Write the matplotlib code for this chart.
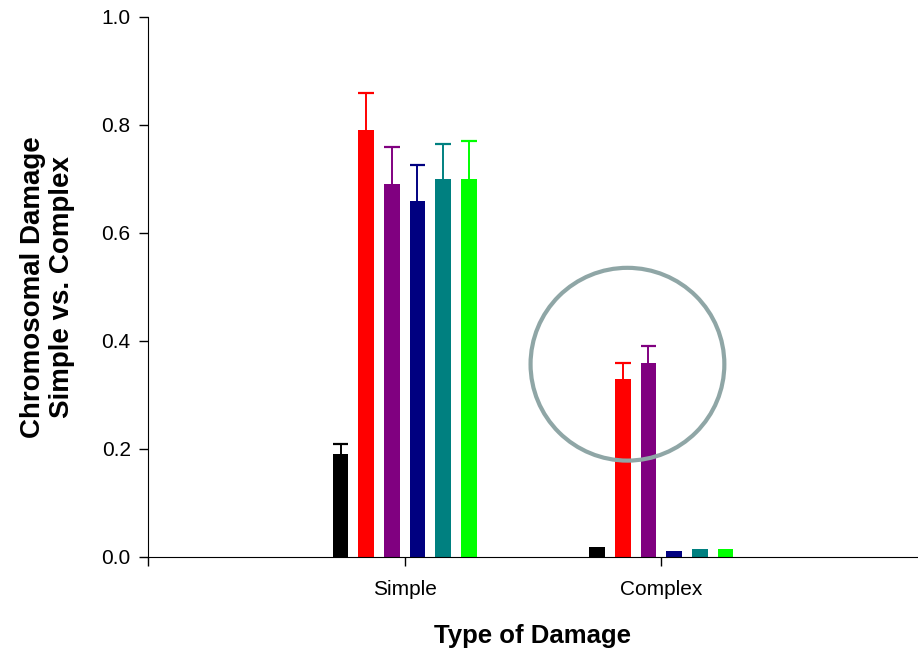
import matplotlib
matplotlib.use("Agg")
import matplotlib.pyplot as plt
from matplotlib.patches import Ellipse
import numpy as np

plt.rcParams['font.family'] = ['Liberation Sans', 'DejaVu Sans']

categories = ["Simple", "Complex"]
series_colors = ["#000000", "#ff0000", "#800080", "#000080", "#008080", "#00ff00"]
simple_vals = [0.19, 0.79, 0.69, 0.66, 0.70, 0.70]
simple_err = [0.02, 0.07, 0.07, 0.065, 0.065, 0.07]
complex_vals = [0.018, 0.33, 0.36, 0.012, 0.015, 0.014]
complex_err = [0.0, 0.03, 0.03, 0.0, 0.0, 0.0]
y_ticks = [0.0, 0.2, 0.4, 0.6, 0.8, 1.0]

fig = plt.figure(figsize=(9.18, 6.49), dpi=100)
ax = fig.add_axes([148/918, (649-557)/649, (918-148)/918, 540/649])

n = len(series_colors)
step = 0.1
width = 0.062
offsets = (np.arange(n) - (n-1)/2) * step
vals = np.array([simple_vals, complex_vals])
errs = np.array([simple_err, complex_err])
x = np.arange(len(categories))
for i in range(n):
    xs = x + offsets[i]
    ax.bar(xs, vals[:, i], width=width, color=series_colors[i], zorder=2)
    for xx, v, e in zip(xs, vals[:, i], errs[:, i]):
        if e > 0:
            ax.vlines(xx, v, v + e, color=series_colors[i], linewidth=1.4, zorder=3)
            ax.hlines(v + e, xx - width/2, xx + width/2, color=series_colors[i],
                      linewidth=1.6, zorder=3)

ax.add_patch(Ellipse((0.868, 0.357), 0.755, 0.357, fill=False,
                     edgecolor="#8fa6a6", linewidth=3, zorder=4))

ax.set_xlim(-1, 2)
ax.set_ylim(0, 1.0)
ax.set_xticks([-1] + list(x))
ax.set_xticklabels([""] + categories, fontsize=15)
ax.set_yticks(y_ticks)
ax.set_yticklabels([f"{t:.1f}" for t in y_ticks], fontsize=15)
ax.spines['top'].set_visible(False)
ax.spines['right'].set_visible(False)
ax.tick_params(direction='out', length=6.5, width=1)
ax.tick_params(axis='x', pad=10)
ax.tick_params(axis='y', pad=6)
ax.set_xlabel("Type of Damage", fontsize=18.5, fontweight='bold', labelpad=18)
ax.set_ylabel("Chromosomal Damage\nSimple vs. Complex", fontsize=20, fontweight='bold',
              labelpad=19, linespacing=1.15)

fig.savefig("out.png", dpi=100)
